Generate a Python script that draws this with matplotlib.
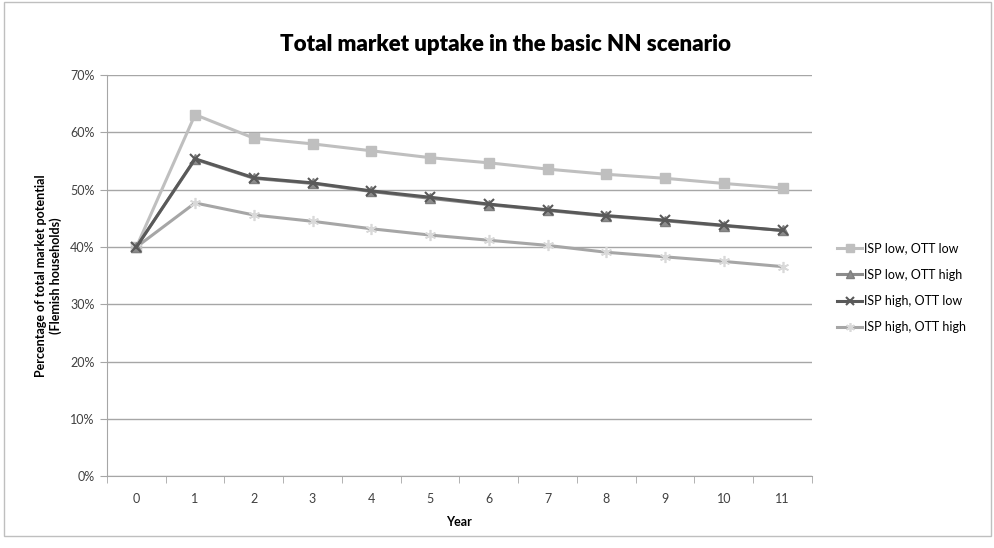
import matplotlib.pyplot as plt
from matplotlib.patches import Rectangle

plt.rcParams['font.family'] = ['Lato', 'DejaVu Sans']

years = list(range(12))
lowLow = [40.0, 63.1, 59.0, 58.0, 56.8, 55.6, 54.7, 53.6, 52.7, 52.0, 51.1, 50.3]
lowHigh = [40.0, 55.3, 52.0, 51.1, 49.7, 48.5, 47.4, 46.4, 45.4, 44.6, 43.7, 42.9]
highLow = [40.0, 55.4, 52.1, 51.2, 49.8, 48.7, 47.5, 46.5, 45.5, 44.7, 43.8, 42.9]
highHigh = [40.0, 47.7, 45.6, 44.5, 43.2, 42.1, 41.2, 40.3, 39.1, 38.3, 37.5, 36.6]
labels = ['ISP low, OTT low', 'ISP low, OTT high', 'ISP high, OTT low', 'ISP high, OTT high']

fig = plt.figure(figsize=(9.95, 5.48), dpi=100)
ax = fig.add_axes([0.1075, 0.1305, 0.7085, 0.7325])

#one series at a time, grey shades as in the original
ax.plot(years, [v / 100 for v in lowLow], color='#BFBFBF', lw=2.2, marker='s', ms=7.5,
        mec='#BFBFBF', mfc='#BFBFBF', label=labels[0], zorder=3)
ax.plot(years, [v / 100 for v in lowHigh], color='#8C8C8C', lw=2.2, marker='^', ms=7.5,
        mec='#7F7F7F', mfc='#8C8C8C', label=labels[1], zorder=4)
ax.plot(years, [v / 100 for v in highLow], color='#595959', lw=2.2, marker='x', ms=7,
        mew=1.5, mec='#595959', label=labels[2], zorder=5)
ax.plot(years, [v / 100 for v in highHigh], color='#A6A6A6', lw=2.2, marker=(6, 2, 0), ms=8,
        mew=1.2, mec='#D9D9D9', label=labels[3], zorder=3)

ax.set_xlim(-0.5, 11.5)
ax.set_ylim(0, 0.7)
ax.set_yticks([i / 10 for i in range(8)])
ax.set_yticklabels(['%d%%' % (i * 10) for i in range(8)], fontsize=9, color='#404040')
ax.set_xticks(years)
ax.set_xticklabels([str(y) for y in years], fontsize=9, color='#404040')
ax.set_xticks([i - 0.5 for i in range(13)], minor=True)
ax.tick_params(axis='x', which='major', length=0, pad=12)
ax.tick_params(axis='x', which='minor', length=5, color='#A6A6A6', direction='out')
ax.tick_params(axis='y', length=5, color='#A6A6A6', direction='out', pad=4)

ax.grid(True, axis='y', color='#A6A6A6', lw=1)
ax.set_axisbelow(True)
for s in ['top', 'right']:
    ax.spines[s].set_visible(False)
ax.spines['left'].set_color('#A6A6A6')
ax.spines['bottom'].set_color('#A6A6A6')

ax.set_xlabel('Year', fontsize=9, fontweight='bold', labelpad=8)
ax.set_ylabel('Percentage of total market potential\n(Flemish households)', fontsize=9,
              fontweight='bold', labelpad=6)
fig.text(0.508, 0.918, 'Total market uptake in the basic NN scenario', ha='center', va='center',
         fontsize=16, fontweight='heavy')

ax.legend(loc='center left', bbox_to_anchor=(1.02, 0.47), frameon=False, fontsize=9,
          handlelength=2.0, handletextpad=0.1, labelspacing=1.15, markerscale=0.8)

#light border round the whole chart
fig.patches.append(Rectangle((0.004, 0.022), 0.992, 0.975, transform=fig.transFigure,
                             fill=False, ec='#BFBFBF', lw=1))

fig.savefig('out.png', dpi=100)
